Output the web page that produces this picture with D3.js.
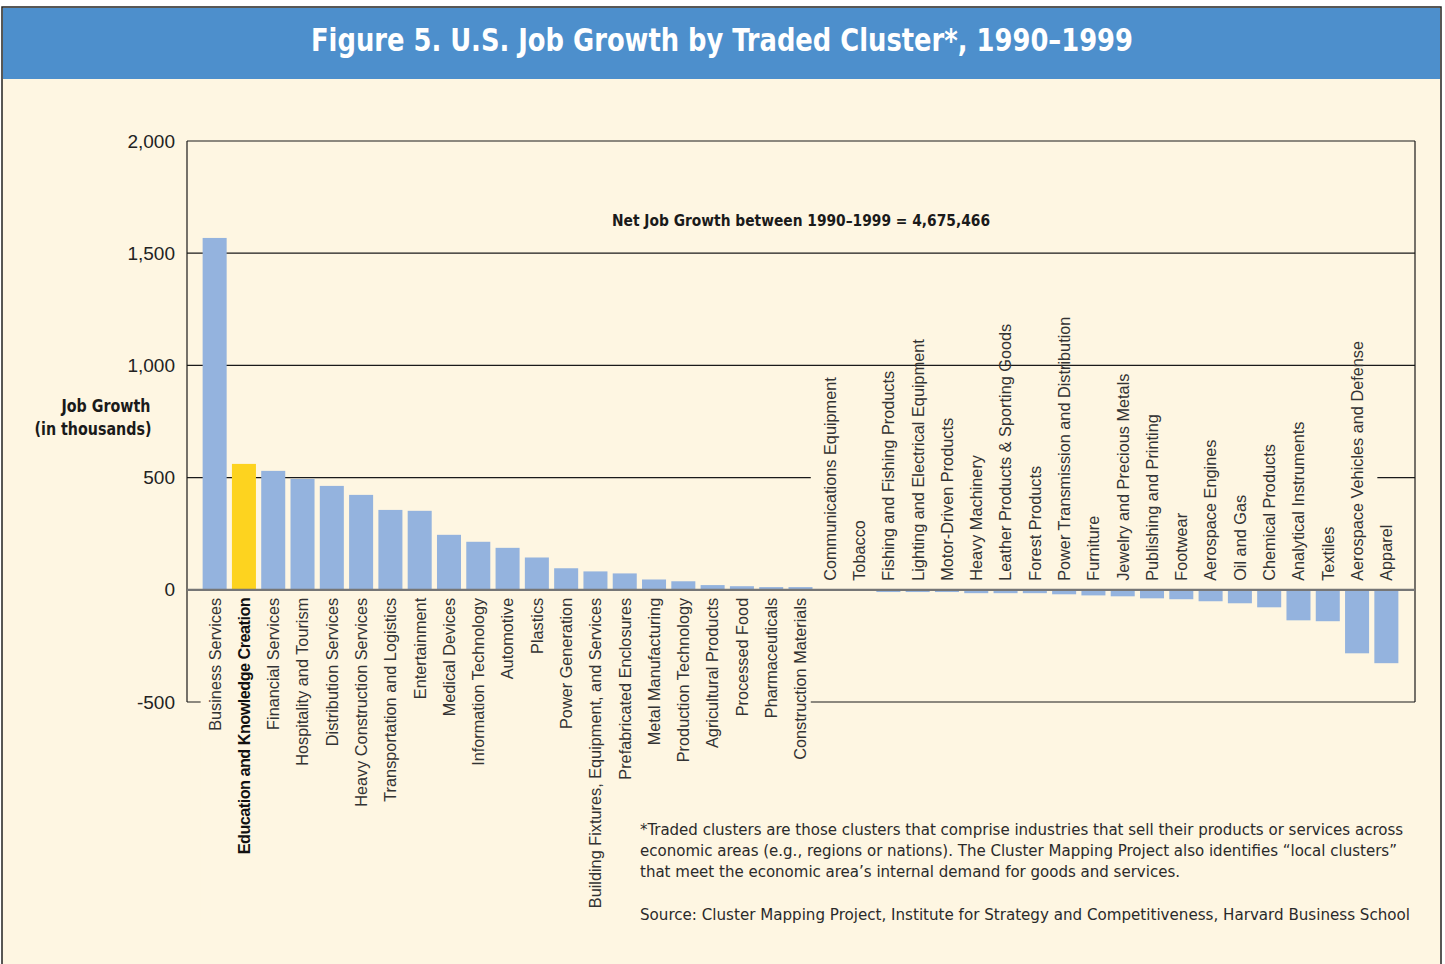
<!DOCTYPE html>
<html lang="en">
<head>
    <script src="https://cdn.jsdelivr.net/npm/d3@7"></script>
    <style>
        body { margin: 0; background: #ffffff; }
    </style>
</head>
<body>

<script>
    var w = 1445;
    var h = 964;

    // clusters, ordered as in the figure
    var clusters = [
        'Business Services', 'Education and Knowledge Creation', 'Financial Services',
        'Hospitality and Tourism', 'Distribution Services', 'Heavy Construction Services',
        'Transportation and Logistics', 'Entertainment', 'Medical Devices',
        'Information Technology', 'Automotive', 'Plastics', 'Power Generation',
        'Building Fixtures, Equipment, and Services', 'Prefabricated Enclosures',
        'Metal Manufacturing', 'Production Technology', 'Agricultural Products',
        'Processed Food', 'Pharmaceuticals', 'Construction Materials',
        'Communications Equipment', 'Tobacco', 'Fishing and Fishing Products',
        'Lighting and Electrical Equipment', 'Motor-Driven Products', 'Heavy Machinery',
        'Leather Products & Sporting Goods', 'Forest Products',
        'Power Transmission and Distribution', 'Furniture', 'Jewelry and Precious Metals',
        'Publishing and Printing', 'Footwear', 'Aerospace Engines', 'Oil and Gas',
        'Chemical Products', 'Analytical Instruments', 'Textiles',
        'Aerospace Vehicles and Defense', 'Apparel'
    ];

    // job growth 1990-1999, thousands
    var growth = [
        1568, 561, 530, 494, 463, 423, 356, 352, 245, 214, 187, 144, 96, 82, 73,
        46, 38, 21, 16, 12, 12, -1, -3, -10, -10, -10, -15, -15, -15, -20, -25,
        -29, -38, -42, -51, -60, -78, -136, -140, -283, -327
    ];

    var highlight = 'Education and Knowledge Creation';

    var tickValues = [-500, 0, 500, 1000, 1500, 2000];
    var tickLabels = ['-500', '0', '500', '1,000', '1,500', '2,000'];

    var footnote = [
        '*Traded clusters are those clusters that comprise industries that sell their products or services across',
        'economic areas (e.g., regions or nations). The Cluster Mapping Project also identifies \u201clocal clusters\u201d',
        'that meet the economic area\u2019s internal demand for goods and services.'
    ];
    var source = 'Source: Cluster Mapping Project, Institute for Strategy and Competitiveness, Harvard Business School';

    var data = clusters.map(function(c, i) { return {name: c, value: growth[i]}; });

    var plot = {left: 187, right: 1415, top: 141, bottom: 702};

    var narrow = '"DejaVu Sans Condensed", "Liberation Sans Narrow", sans-serif';
    var wide = '"Liberation Sans", Arial, sans-serif';

    var svg = d3.select('body').append('svg')
        .attr('width', w)
        .attr('height', h);

    // page + title band
    svg.append('rect').attr('x', 0).attr('y', 0).attr('width', w).attr('height', h).attr('fill', '#ffffff');
    svg.append('rect')
        .attr('x', 2).attr('y', 7).attr('width', 1439).attr('height', h)
        .attr('fill', '#fef6e2').attr('stroke', '#222').attr('stroke-width', 1.5);
    svg.append('rect')
        .attr('x', 3).attr('y', 8).attr('width', 1437).attr('height', 71)
        .attr('fill', '#4d8fcc');
    svg.append('text')
        .attr('x', 722).attr('y', 51)
        .attr('text-anchor', 'middle')
        .attr('font-family', narrow)
        .attr('font-weight', 'bold')
        .attr('font-size', '32px')
        .attr('textLength', 822)
        .attr('lengthAdjust', 'spacingAndGlyphs')
        .attr('fill', '#ffffff')
        .text('Figure 5. U.S. Job Growth by Traded Cluster*, 1990\u20131999');

    var x = d3.scaleBand()
        .domain(clusters)
        .range([200, 1401])
        .paddingInner(0.18)
        .paddingOuter(0.09);

    var y = d3.scaleLinear()
        .domain([-500, 2000])
        .range([plot.bottom, plot.top]);

    // grid lines
    svg.append('g').selectAll('line')
        .data(tickValues.filter(function(d) { return d !== 0; }))
        .enter().append('line')
        .attr('x1', plot.left).attr('x2', plot.right)
        .attr('y1', function(d) { return y(d); })
        .attr('y2', function(d) { return y(d); })
        .attr('stroke', '#1a1a1a')
        .attr('stroke-width', 1.2);

    // masks behind the category labels (they hide the grid)
    var firstNeg = clusters[21];
    svg.append('rect')
        .attr('x', x(clusters[0]) - 2)
        .attr('y', y(0) + 3)
        .attr('width', x(firstNeg) - x(clusters[0]) - 5)
        .attr('height', 330)
        .attr('fill', '#fef6e2');
    svg.append('rect')
        .attr('x', x(firstNeg) - 7)
        .attr('y', y(1000) + 5)
        .attr('width', x('Apparel') - x(firstNeg) + 10)
        .attr('height', y(0) - y(1000) - 8)
        .attr('fill', '#fef6e2');

    // frame
    svg.append('line')
        .attr('x1', plot.left).attr('x2', plot.left)
        .attr('y1', plot.top).attr('y2', plot.bottom)
        .attr('stroke', '#1a1a1a').attr('stroke-width', 1.2);
    svg.append('line')
        .attr('x1', plot.right).attr('x2', plot.right)
        .attr('y1', plot.top).attr('y2', plot.bottom)
        .attr('stroke', '#1a1a1a').attr('stroke-width', 1.2);

    // bars
    svg.append('g').selectAll('rect')
        .data(data)
        .enter().append('rect')
        .attr('x', function(d) { return x(d.name); })
        .attr('width', x.bandwidth())
        .attr('y', function(d) { return y(Math.max(0, d.value)); })
        .attr('height', function(d) { return Math.abs(y(d.value) - y(0)); })
        .attr('fill', function(d) { return d.name === highlight ? '#fdd31f' : '#94b3de'; });

    // zero line
    svg.append('line')
        .attr('x1', plot.left).attr('x2', plot.right)
        .attr('y1', y(0)).attr('y2', y(0))
        .attr('stroke', '#767676').attr('stroke-width', 2.2);

    // y axis labels
    var yAxis = d3.axisLeft(y)
        .tickValues(tickValues)
        .tickFormat(function(d, i) { return tickLabels[i]; })
        .tickSize(0)
        .tickPadding(12);
    var ya = svg.append('g')
        .attr('transform', 'translate(' + plot.left + ',0)')
        .call(yAxis);
    ya.select('.domain').remove();
    ya.selectAll('text')
        .attr('font-family', wide)
        .attr('font-size', '19px')
        .attr('fill', '#222');

    svg.append('text')
        .attr('x', 106).attr('y', 412)
        .attr('text-anchor', 'middle')
        .attr('font-family', narrow).attr('font-weight', 'bold')
        .attr('font-size', '17px').attr('fill', '#1a1a1a')
        .attr('textLength', 89).attr('lengthAdjust', 'spacingAndGlyphs')
        .text('Job Growth');
    svg.append('text')
        .attr('x', 93).attr('y', 435)
        .attr('text-anchor', 'middle')
        .attr('font-family', narrow).attr('font-weight', 'bold')
        .attr('font-size', '17px').attr('fill', '#1a1a1a')
        .attr('textLength', 117).attr('lengthAdjust', 'spacingAndGlyphs')
        .text('(in thousands)');

    // category labels
    svg.append('g').selectAll('text')
        .data(data)
        .enter().append('text')
        .attr('transform', function(d) {
            var cx = x(d.name) + x.bandwidth() / 2;
            var ty = d.value > 0 ? y(0) + 8 : y(0) - 9;
            return 'translate(' + cx + ',' + ty + ') rotate(-90)';
        })
        .attr('dy', '0.36em')
        .attr('text-anchor', function(d) { return d.value > 0 ? 'end' : 'start'; })
        .attr('font-family', wide)
        .attr('font-size', '16.3px')
        .attr('letter-spacing', function(d) { return d.name === highlight ? '-0.55px' : null; })
        .attr('font-weight', function(d) { return d.name === highlight ? 'bold' : 'normal'; })
        .attr('fill', function(d) { return d.name === highlight ? '#111' : '#333'; })
        .text(function(d) { return d.name; });

    svg.append('text')
        .attr('x', 801).attr('y', 226)
        .attr('text-anchor', 'middle')
        .attr('font-family', narrow).attr('font-weight', 'bold')
        .attr('font-size', '16px').attr('fill', '#1a1a1a')
        .attr('textLength', 378).attr('lengthAdjust', 'spacingAndGlyphs')
        .text('Net Job Growth between 1990\u20131999 = 4,675,466');

    // notes
    svg.append('g').selectAll('text')
        .data(footnote)
        .enter().append('text')
        .attr('x', 640)
        .attr('y', function(d, i) { return 835 + i * 21; })
        .attr('font-family', narrow)
        .attr('font-size', '16.7px')
        .attr('fill', '#2a2a2a')
        .text(function(d) { return d; });
    svg.append('text')
        .attr('x', 640).attr('y', 920)
        .attr('font-family', narrow)
        .attr('font-size', '16.7px')
        .attr('fill', '#2a2a2a')
        .attr('textLength', 770).attr('lengthAdjust', 'spacingAndGlyphs')
        .text(source);
</script>
</body>
</html>
